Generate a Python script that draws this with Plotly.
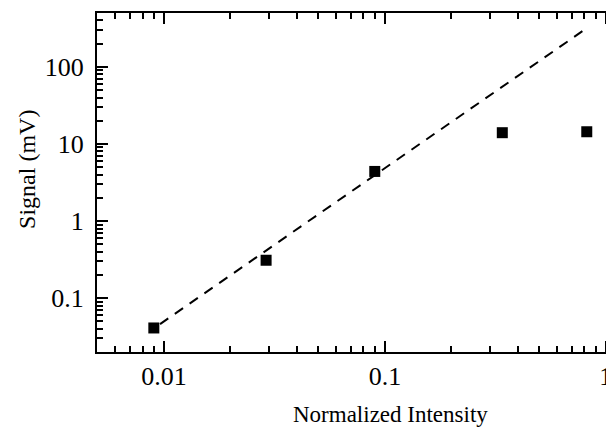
"""Signal vs normalized intensity, log-log with quadratic guide line."""

import plotly.graph_objects as go

intensity = [0.009, 0.029, 0.09, 0.34, 0.82]
signal_mv = [0.041, 0.31, 4.4, 14.0, 14.4]

fit_x = [0.0096, 0.82]
fit_y = [0.046, 318]

x_tickvals = [0.01, 0.1, 1]
x_ticktext = ["0.01", "0.1", "1"]
y_tickvals = [0.1, 1, 10, 100]
y_ticktext = ["0.1", "1", "10", "100"]

FONT = "Liberation Serif"

fig = go.Figure()

fig.add_trace(
    go.Scatter(
        x=fit_x,
        y=fit_y,
        mode="lines",
        line=dict(color="black", width=2, dash="10px,8px"),
        showlegend=False,
    )
)

fig.add_trace(
    go.Scatter(
        x=intensity,
        y=signal_mv,
        mode="markers",
        marker=dict(symbol="square", size=11, color="black"),
        showlegend=False,
    )
)

axis_common = dict(
    type="log",
    showgrid=False,
    zeroline=False,
    showline=True,
    linecolor="black",
    linewidth=2,
    ticks="inside",
    ticklen=11,
    tickwidth=2,
    tickcolor="black",
    tickfont=dict(family=FONT, size=26, color="black"),
    minor=dict(
        dtick="D1",
        ticks="inside",
        ticklen=6,
        tickwidth=2,
        tickcolor="black",
        showgrid=False,
    ),
)

fig.update_xaxes(
    **axis_common,
    range=[-2.303, 0.028],
    tickvals=x_tickvals,
    ticktext=x_ticktext,
    mirror="ticks",
)
fig.update_yaxes(
    **axis_common,
    range=[-1.699, 2.699],
    tickvals=y_tickvals,
    ticktext=y_ticktext,
    ticklabelstandoff=6,
)

fig.add_annotation(
    text="Normalized Intensity",
    xref="paper",
    yref="paper",
    x=0.569,
    y=-0.183,
    xanchor="center",
    yanchor="middle",
    showarrow=False,
    font=dict(family=FONT, size=23, color="black"),
)
fig.add_annotation(
    text="Signal (mV)",
    xref="paper",
    yref="paper",
    x=-0.136,
    y=0.54,
    xanchor="center",
    yanchor="middle",
    textangle=-90,
    showarrow=False,
    font=dict(family=FONT, size=24, color="black"),
)

# page body has an 8px margin, so shrink the figure to keep the plot in place
fig.update_layout(
    width=606,
    height=420,
    plot_bgcolor="white",
    paper_bgcolor="white",
    margin=dict(l=89, r=2, t=5, b=76),
)

fig.write_html("out.html")
